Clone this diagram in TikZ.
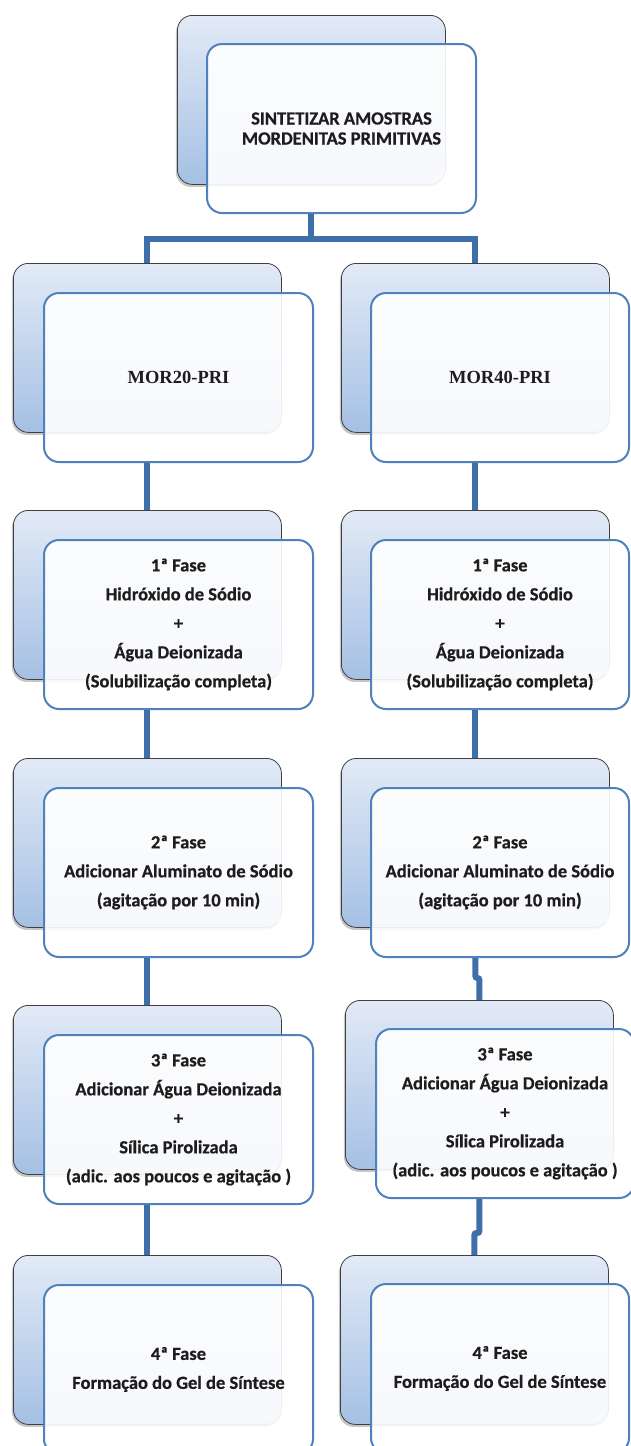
\documentclass[tikz,border=0pt]{standalone}
\usepackage{fontspec}
\setmainfont{Carlito}[BoldFeatures={FakeBold=0.6}]
\newfontfamily\timesbf{Liberation Serif}
\usetikzlibrary{shadows}

\definecolor{linkblue}{RGB}{63,111,168}
\definecolor{frameblue}{RGB}{79,129,189}
\definecolor{backtop}{RGB}{226,234,246}
\definecolor{backbot}{RGB}{165,192,228}
\definecolor{txtgray}{RGB}{30,28,28}

\begin{document}
\begin{tikzpicture}[x=1pt,y=-1pt,
    back/.style={anchor=north west, rounded corners=15pt, draw=black!75, line width=0.8pt,
        top color=backtop, bottom color=backbot, minimum width=268pt, minimum height=169pt,
        inner sep=0pt, drop shadow={shadow xshift=-1.5pt, shadow yshift=-2.5pt, opacity=0.45}},
    front/.style={anchor=north west, rounded corners=15pt, draw=frameblue, line width=2pt,
        fill=white, fill opacity=0.91, text opacity=1, minimum width=269pt, minimum height=169pt,
        inner sep=0pt, align=center, text=txtgray, font=\bfseries\fontsize{18.5}{29}\selectfont},
    narrow/.style={minimum width=258pt},
    morbox/.style={font=\timesbf\bfseries\fontsize{18.5}{22}\selectfont},
    link/.style={draw=linkblue, line width=6pt}]
        \useasboundingbox (0,0) rectangle (630,1446);

        % Back boxes
        \node[back] (sint-bk) at (177,15) {};
        \node[back] (mor20-bk) at (13,263) {};
        \node[back] (mor40-bk) at (341,263) {};
        \node[back] (fase1a-bk) at (13,510) {};
        \node[back] (fase1b-bk) at (341,510) {};
        \node[back] (fase2a-bk) at (13,758) {};
        \node[back] (fase2b-bk) at (341,758) {};
        \node[back] (fase3a-bk) at (13,1005) {};
        \node[back] (fase3b-bk) at (345,1000) {};
        \node[back] (fase4a-bk) at (13,1255) {};
        \node[back] (fase4b-bk) at (340,1255) {};

        % Front boxes
        \node[front, font=\bfseries\fontsize{18.5}{20}\selectfont] (sint) at (206,43)
            {SINTETIZAR AMOSTRAS\\MORDENITAS PRIMITIVAS};
        \node[front, morbox] (mor20) at (43,292) {MOR20-PRI};
        \node[front, morbox, narrow] (mor40) at (370,292) {MOR40-PRI};
        \node[front] (fase1a) at (43,539)
            {1ª Fase\\Hidróxido de Sódio\\+\\Água Deionizada\\(Solubilização completa)};
        \node[front, narrow] (fase1b) at (370,539)
            {1ª Fase\\Hidróxido de Sódio\\+\\Água Deionizada\\(Solubilização completa)};
        \node[front] (fase2a) at (43,787)
            {2ª Fase\\Adicionar Aluminato de Sódio\\(agitação por 10 min)};
        \node[front, narrow] (fase2b) at (370,787)
            {2ª Fase\\Adicionar Aluminato de Sódio\\(agitação por 10 min)};
        \node[front] (fase3a) at (43,1034)
            {3ª Fase\\Adicionar Água Deionizada\\+\\Sílica Pirolizada\\(adic. aos poucos e agitação )};
        \node[front, narrow] (fase3b) at (375,1028)
            {3ª Fase\\Adicionar Água Deionizada\\+\\Sílica Pirolizada\\(adic. aos poucos e agitação )};
        \node[front] (fase4a) at (43,1284)
            {4ª Fase\\Formação do Gel de Síntese};
        \node[front, narrow] (fase4b) at (370,1283)
            {4ª Fase\\Formação do Gel de Síntese};

        % Connectors
        \draw[link] (sint.south -| sint-bk.south) -- ++(0,25) coordinate (split);
        \draw[link] (mor20-bk.north) |- (split) -| (mor40-bk.north);
        \draw[link] (mor20.south -| mor20-bk.south) -- (fase1a-bk.north);
        \draw[link] (mor40.south -| mor40-bk.south) -- (fase1b-bk.north);
        \draw[link] (fase1a.south -| fase1a-bk.south) -- (fase2a-bk.north);
        \draw[link] (fase1b.south -| fase1b-bk.south) -- (fase2b-bk.north);
        \draw[link] (fase2a.south -| fase2a-bk.south) -- (fase3a-bk.north);
        \draw[link, rounded corners=2pt] (fase2b.south -| fase2b-bk.south) -- ++(0,20) -| (fase3b-bk.north);
        \draw[link] (fase3a.south -| fase3a-bk.south) -- (fase4a-bk.north);
        \draw[link, rounded corners=2pt] (fase3b.south -| fase3b-bk.south) -- ++(0,34) -| (fase4b-bk.north);
    \end{tikzpicture}
\end{document}
